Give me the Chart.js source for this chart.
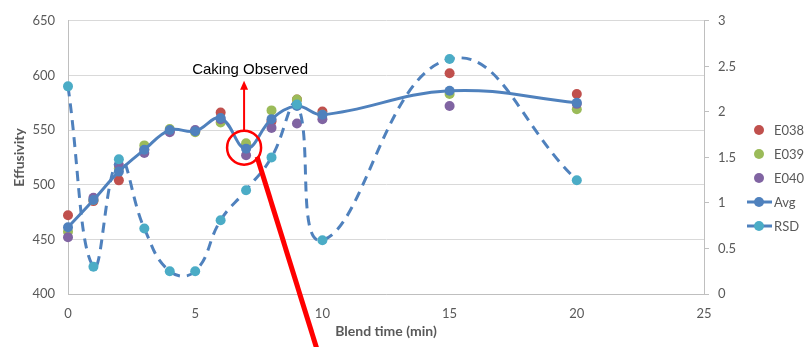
<!DOCTYPE html>
<html>
<head>
<meta charset="utf-8">
<script src="https://cdn.jsdelivr.net/npm/chart.js@4"></script>
<style>
  body { margin: 0; background: #fff; }
  #wrap { width: 804px; height: 347px; }
</style>
</head>
<body>
<div id="wrap"><canvas id="myChart" width="804" height="347"></canvas></div>
<script>
// blend time (min) on x
const blendTime = [0, 1, 2, 3, 4, 5, 6, 7, 8, 9, 10, 15, 20];

// effusivity for each lot
const e038 = [472, 485, 504, 532, 549, 549, 566, 535, 558, 578, 567, 602, 583];
const e039 = [457, 486, 515, 536, 551, 548, 557, 538, 568, 578, 564, 583, 569];
const e040 = [452, 488, 518, 529, 548, 550, 560, 527, 552, 556, 560, 572, 574];
const avg = [461, 486, 512, 532, 550, 549, 561, 533, 560, 572, 564, 586, 575];

// RSD on the right axis
const rsd = [2.28, 0.30, 1.48, 0.72, 0.25, 0.25, 0.81, 1.14, 1.50, 2.08, 0.59, 2.58, 1.25];

const xTicks = [0, 5, 10, 15, 20, 25];
const yTicks = [400, 450, 500, 550, 600, 650];
const y1Ticks = [0, 0.5, 1, 1.5, 2, 2.5, 3];

const cakingTime = 7;
const cakingLabel = 'Caking Observed';

const legendItems = [
    { label: 'E038', color: '#C0504D', line: null },
    { label: 'E039', color: '#9BBB59', line: null },
    { label: 'E040', color: '#8064A2', line: null },
    { label: 'Avg', color: '#4F81BD', line: 'solid' },
    { label: 'RSD', color: '#4BACC6', line: 'dash' }
];

function toPoints(values) {
    return blendTime.map((t, i) => ({ x: t, y: values[i] }));
}

const fontName = 'Lato, "Open Sans", sans-serif';
const gray = '#595959';

// 주석(원, 화살표, 글씨)과 범례 그리기
const annotatePlugin = {
    id: 'annotate',
    afterDraw(chart) {
        const ctx = chart.ctx;
        const xs = chart.scales.x;
        const ys = chart.scales.y;
        const idx = blendTime.indexOf(cakingTime);
        const cx = xs.getPixelForValue(cakingTime) - 2;
        const cy = ys.getPixelForValue(avg[idx]) - 1;

        ctx.save();
        ctx.strokeStyle = '#FF0000';
        ctx.fillStyle = '#FF0000';

        // circle
        ctx.lineWidth = 2.5;
        ctx.beginPath();
        ctx.arc(cx, cy, 17, 0, Math.PI * 2);
        ctx.stroke();

        // arrow up
        ctx.lineWidth = 2;
        ctx.beginPath();
        ctx.moveTo(cx, cy - 16);
        ctx.lineTo(cx, cy - 60);
        ctx.stroke();
        ctx.beginPath();
        ctx.moveTo(cx, cy - 67);
        ctx.lineTo(cx - 4, cy - 58);
        ctx.lineTo(cx + 4, cy - 58);
        ctx.closePath();
        ctx.fill();

        // big pointer line
        ctx.lineWidth = 5;
        ctx.beginPath();
        ctx.moveTo(cx + 13, cy + 9);
        ctx.lineTo(cx + 78, cy + 218);
        ctx.stroke();

        // text
        ctx.fillStyle = '#000';
        ctx.font = '15px "Liberation Sans", Arial, sans-serif';
        ctx.textAlign = 'center';
        ctx.textBaseline = 'middle';
        ctx.fillText(cakingLabel, cx + 6, cy - 78);

        // legend
        const lx = chart.chartArea.right + 55;
        let ly = 130;
        ctx.font = '13px ' + fontName;
        ctx.textAlign = 'left';
        legendItems.forEach(item => {
            if (item.line === 'solid') {
                ctx.strokeStyle = '#4F81BD';
                ctx.lineWidth = 3;
                ctx.beginPath();
                ctx.moveTo(lx - 12, ly);
                ctx.lineTo(lx + 13, ly);
                ctx.stroke();
            } else if (item.line === 'dash') {
                ctx.strokeStyle = '#4F81BD';
                ctx.lineWidth = 3;
                ctx.beginPath();
                ctx.moveTo(lx - 12, ly);
                ctx.lineTo(lx - 3, ly);
                ctx.moveTo(lx + 4, ly);
                ctx.lineTo(lx + 13, ly);
                ctx.stroke();
            }
            ctx.fillStyle = item.color;
            ctx.beginPath();
            ctx.arc(lx, ly, 5, 0, Math.PI * 2);
            ctx.fill();
            ctx.fillStyle = gray;
            ctx.fillText(item.label, lx + 15, ly + 1);
            ly += 24;
        });
        ctx.restore();
    }
};

const scatterSet = (label, values, color, order) => ({
    label: label,
    data: toPoints(values),
    showLine: false,
    pointRadius: 5,
    pointBorderWidth: 0,
    backgroundColor: color,
    borderColor: color,
    yAxisID: 'y',
    clip: false,
    order: order
});

const ctx = document.getElementById('myChart').getContext('2d');
const chart = new Chart(ctx, {
    type: 'scatter',
    data: {
        datasets: [
            scatterSet('E038', e038, '#C0504D', 5),
            scatterSet('E039', e039, '#9BBB59', 4),
            scatterSet('E040', e040, '#8064A2', 3),
            {
                label: 'Avg',
                data: toPoints(avg),
                showLine: true,
                tension: 0.4,
                borderColor: '#4F81BD',
                backgroundColor: '#4F81BD',
                borderWidth: 3,
                pointRadius: 5,
                pointBorderWidth: 0,
                yAxisID: 'y',
                clip: false,
                order: 2
            },
            {
                label: 'RSD',
                data: toPoints(rsd),
                showLine: true,
                tension: 0.45,
                borderColor: '#4F81BD',
                backgroundColor: '#4BACC6',
                borderWidth: 3,
                borderDash: [10, 7],
                pointRadius: 5,
                pointBorderWidth: 0,
                yAxisID: 'y1',
                clip: false,
                order: 1
            }
        ]
    },
    options: {
        responsive: false,
        animation: false,
        layout: { padding: { top: 15, left: 0, right: 0, bottom: 0 } },
        plugins: {
            legend: { display: false },
            tooltip: { enabled: false }
        },
        scales: {
            x: {
                type: 'linear',
                min: 0,
                max: 25,
                afterFit(s) { s.height = 53; },
                afterBuildTicks(s) { s.ticks = xTicks.map(v => ({ value: v })); },
                grid: { display: false, drawTicks: false },
                border: { color: '#BFBFBF', width: 1 },
                ticks: { padding: 12, color: gray, font: { family: fontName, size: 13 } },
                title: {
                    display: true,
                    text: 'Blend time (min)',
                    color: gray,
                    font: { family: fontName, size: 14, weight: 'bold' },
                    padding: { top: 0, bottom: 7 }
                }
            },
            y: {
                position: 'left',
                min: 400,
                max: 650,
                afterFit(s) { s.width = 68; },
                afterBuildTicks(s) { s.ticks = yTicks.map(v => ({ value: v })); },
                grid: { color: '#D9D9D9', drawTicks: false },
                border: { color: '#BFBFBF', width: 1 },
                ticks: { padding: 13, color: gray, font: { family: fontName, size: 13 } },
                title: {
                    display: true,
                    text: 'Effusivity',
                    color: gray,
                    font: { family: fontName, size: 14, weight: 'bold' },
                    padding: { top: 11, bottom: 0 }
                }
            },
            y1: {
                position: 'right',
                min: 0,
                max: 3,
                afterFit(s) { s.width = 100; },
                afterBuildTicks(s) { s.ticks = y1Ticks.map(v => ({ value: v })); },
                grid: { drawOnChartArea: false, drawTicks: true, tickLength: 5, color: '#BFBFBF' },
                border: { color: '#BFBFBF', width: 1 },
                ticks: {
                    padding: 9,
                    color: gray,
                    font: { family: fontName, size: 13 },
                    callback: v => String(v)
                }
            }
        }
    },
    plugins: [annotatePlugin]
});
</script>
</body>
</html>
